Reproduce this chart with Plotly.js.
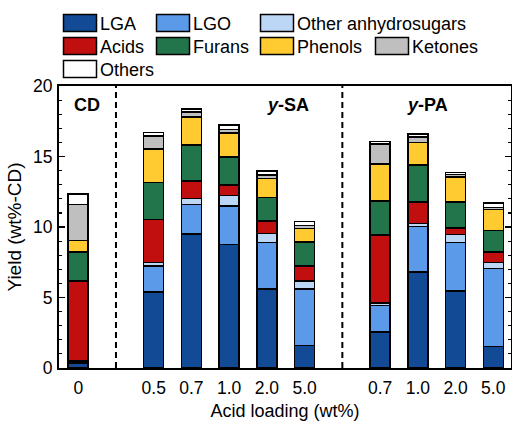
<!DOCTYPE html>
<html>
<head>
<meta charset="utf-8">
<script src="https://cdn.plot.ly/plotly-3.0.1.min.js"></script>
<style>html,body{margin:0;padding:0;background:#fff;}#chart{width:512px;height:421px;}</style>
</head>
<body>
<div id="chart"></div>
<script>
// ---- data ----
const groups = ['CD', 'y-SA', 'y-PA'];
const groupLabels = [['0'], ['0.5', '0.7', '1.0', '2.0', '5.0'], ['0.7', '1.0', '2.0', '5.0']];
const components = ['LGA', 'LGO', 'Other anhydrosugars', 'Acids', 'Furans', 'Phenols', 'Ketones', 'Others'];
// values per bar, in order: CD-0 | SA 0.5, 0.7, 1.0, 2.0, 5.0 | PA 0.7, 1.0, 2.0, 5.0
const LGA    = [0.35, 5.40, 9.50, 8.77, 5.61, 1.58, 2.55, 6.82, 5.47, 1.53];
const LGO    = [0.10, 1.84, 2.10, 2.72, 3.28, 4.03, 1.88, 3.20, 3.42, 5.52];
const OtherAnhydro = [0.10, 0.23, 0.43, 0.73, 0.66, 0.57, 0.17, 0.24, 0.57, 0.45];
const Acids  = [5.63, 3.07, 1.25, 0.75, 0.87, 1.06, 4.83, 1.51, 0.47, 0.73];
const Furans = [2.03, 2.60, 2.52, 2.01, 1.68, 1.68, 2.41, 2.62, 1.84, 1.51];
const Phenols= [0.82, 2.38, 2.01, 1.70, 1.35, 0.99, 2.62, 1.60, 1.77, 1.51];
const Ketones= [2.57, 0.92, 0.35, 0.23, 0.23, 0.18, 1.41, 0.40, 0.19, 0.14];
const Others = [0.73, 0.26, 0.21, 0.31, 0.28, 0.31, 0.19, 0.19, 0.14, 0.33];
const series = [LGA, LGO, OtherAnhydro, Acids, Furans, Phenols, Ketones, Others];

// ---- styles ----
const colors = ['#134a96', '#5b9ae8', '#bcd6f5', '#c10e0e', '#22744a', '#ffcb30', '#bfbfbf', '#ffffff'];
const FONT = 'Liberation Sans, Arial, Helvetica, sans-serif';

// positions: one empty slot between groups
const xPos = [], tickText = [], separators = [], groupCenters = [];
let p = 0;
groupLabels.forEach((labels, gi) => {
  const start = p;
  labels.forEach(l => { xPos.push(p); tickText.push(l); p += 1; });
  groupCenters.push((start + p - 1) / 2);
  if (gi < groupLabels.length - 1) { separators.push(p); p += 1; }
});

// legend layout (column-major grid like the reference)
const legendCells = [[0, 0], [1, 0], [2, 0], [0, 1], [1, 1], [2, 1], [3, 1], [0, 2]]; // [col,row]
const colPx = [60, 153, 257, 372];
const rowPx = [23.2, 46.3, 69.2];
const L = 59, R = 1, T = 86, B = 53, W = 512, H = 421;
const pw = W - L - R, ph = H - T - B;

const traces = series.map((vals, i) => ({
  type: 'bar',
  name: components[i],
  x: xPos,
  y: vals,
  width: 0.53,
  marker: { color: colors[i], line: { color: '#000', width: 1.5 } },
  legend: i === 0 ? 'legend' : 'legend' + (i + 1),
  hoverinfo: 'name+y'
}));

const layout = {
  width: W, height: H,
  margin: { l: L, r: R, t: T, b: B },
  barmode: 'stack',
  paper_bgcolor: '#fff', plot_bgcolor: '#fff',
  font: { family: FONT, size: 18, color: '#000' },
  xaxis: {
    range: [-0.51, 11.47],
    tickvals: xPos, ticktext: tickText,
    ticks: '', showline: true, mirror: true, linecolor: '#000', linewidth: 2,
    showgrid: false, zeroline: false,
    tickfont: { size: 17.5 },
    ticklabelstandoff: 3,
    title: { text: 'Acid loading (wt%)', font: { size: 18 }, standoff: 8 }
  },
  yaxis: {
    range: [0, 20], dtick: 5,
    ticks: 'inside', ticklen: 6, tickwidth: 1.5, tickcolor: '#000',
    minor: { dtick: 1, ticks: 'inside', ticklen: 3, tickwidth: 1.2, tickcolor: '#000' },
    showline: true, mirror: 'ticks', linecolor: '#000', linewidth: 2,
    showgrid: false, zeroline: false,
    tickfont: { size: 17.5 },
    ticklabelstandoff: 1,
    title: { text: 'Yield (wt%-CD)', font: { size: 19 }, standoff: 6 }
  },
  shapes: separators.map(s => ({
    type: 'line', xref: 'x', yref: 'y', x0: s, x1: s, y0: 0, y1: 20,
    line: { color: '#000', width: 2, dash: '6px,4px' }
  })),
  annotations: [
    { text: '<b>CD</b>', x: groupCenters[0] + 0.22, y: 18.63 },
    { text: '<b><i>y</i>-SA</b>', x: groupCenters[1] + 1.56, y: 18.63 },
    { text: '<b><i>y</i>-PA</b>', x: groupCenters[2] - 0.23, y: 18.63 }
  ].map(a => Object.assign(a, { xref: 'x', yref: 'y', showarrow: false, font: { size: 18, color: '#000' }, xanchor: 'center', yanchor: 'middle' })),
  showlegend: true
};

legendCells.forEach(([c, r], i) => {
  const key = i === 0 ? 'legend' : 'legend' + (i + 1);
  layout[key] = {
    x: (colPx[c] - L) / pw,
    y: (H - B - rowPx[r]) / ph,
    xanchor: 'left', yanchor: 'middle',
    bgcolor: 'rgba(0,0,0,0)', borderwidth: 0,
    font: { size: 18, color: '#000' },
    itemclick: false, itemdoubleclick: false
  };
});

Plotly.newPlot('chart', traces, layout, { displayModeBar: false, staticPlot: true }).then(() => {
  document.querySelectorAll('.legendpoints path').forEach(el => {
    el.setAttribute('d', 'M-16.5,-8.5H16.5V8.5H-16.5Z');
    el.style.strokeWidth = '1.5px';
  });
});
</script>
</body>
</html>
